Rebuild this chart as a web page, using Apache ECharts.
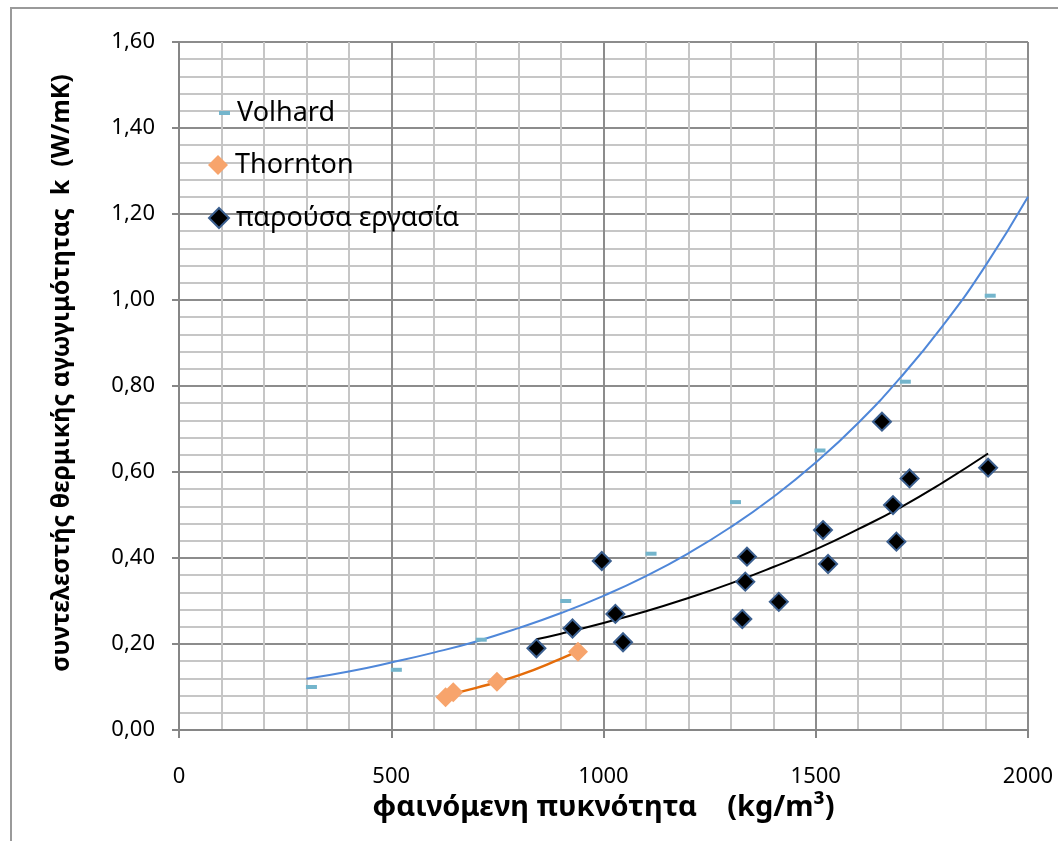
<!DOCTYPE html>
<html>
<head>
<meta charset="utf-8">
<script src="https://cdn.jsdelivr.net/npm/echarts@6/dist/echarts.min.js"></script>
<style>
html,body{margin:0;padding:0;background:#fff;}
#chart{width:1058px;height:841px;}
</style>
</head>
<body>
<div id="chart"></div>
<script>
// ---- data ----
const seriesNames = ['Volhard', 'Thornton', 'παρούσα εργασία'];

const volhardX = [312, 512, 712, 911, 1112, 1311, 1510, 1711, 1911];
const volhardK = [0.10, 0.14, 0.21, 0.30, 0.41, 0.53, 0.65, 0.81, 1.01];

const thorntonX = [628, 646, 749, 940];
const thorntonK = [0.076, 0.088, 0.112, 0.182];

const presentX = [842, 927, 996, 1028, 1046, 1327, 1334, 1338, 1413, 1517, 1529, 1656, 1682, 1690, 1721, 1906];
const presentK = [0.190, 0.236, 0.393, 0.270, 0.204, 0.258, 0.345, 0.403, 0.298, 0.465, 0.386, 0.717, 0.523, 0.438, 0.585, 0.610];

// trend lines
const volhardTrendX = [300, 400, 500, 600, 700, 800, 900, 1000, 1100, 1200, 1300, 1400, 1500, 1600, 1700, 1800, 1900, 2000];
const volhardTrendK = [0.119, 0.136, 0.157, 0.180, 0.206, 0.237, 0.272, 0.312, 0.358, 0.411, 0.472, 0.542, 0.622, 0.714, 0.820, 0.941, 1.080, 1.240];

const thorntonTrendX = [628, 700, 800, 900, 940];
const thorntonTrendK = [0.081, 0.098, 0.127, 0.166, 0.184];

const presentTrendX = [842, 900, 1000, 1100, 1200, 1300, 1400, 1500, 1600, 1700, 1800, 1906];
const presentTrendK = [0.211, 0.224, 0.249, 0.276, 0.307, 0.341, 0.379, 0.420, 0.467, 0.518, 0.576, 0.643];

const xTitle = 'φαινόμενη πυκνότητα    (kg/m³)';
const yTitle = 'συντελεστής θερμικής αγωγιμότητας  k  (W/mK)';

// ---- build ----
const zip = (xs, ys) => xs.map((x, i) => [x, ys[i]]);
const FONT = 'Noto Sans';

const chart = echarts.init(document.getElementById('chart'), null, {renderer: 'canvas'});

function legendFor(name, top, left, w, h) {
  return {
    data: [name],
    orient: 'vertical',
    left: left, top: top,
    padding: 0,
    itemWidth: w, itemHeight: h,
    selectedMode: false,
    textStyle: {fontFamily: FONT, fontSize: 27, color: '#000', lineHeight: 30, padding: [0, 0, 0, 2]}
  };
}

const option = {
  animation: false,
  backgroundColor: '#fff',
  graphic: [{
    type: 'rect', silent: true, z: -10,
    shape: {x: 11, y: 8, width: 1200, height: 1000},
    style: {fill: 'none', stroke: '#9a9a9a', lineWidth: 2}
  }],
  legend: [
    legendFor(seriesNames[0], 98, 219, 11, 4),
    legendFor(seriesNames[1], 150, 208, 20, 20),
    legendFor(seriesNames[2], 203, 208, 20, 20)
  ],
  grid: {left: 179, right: 30, top: 42, bottom: 111, containLabel: false},
  xAxis: {
    type: 'value', min: 0, max: 2000, interval: 500,
    name: xTitle, nameLocation: 'middle', nameGap: 61,
    nameTextStyle: {fontFamily: FONT, fontWeight: 'bold', fontSize: 29, color: '#000'},
    axisLine: {show: true, lineStyle: {color: '#868686', width: 2}},
    axisTick: {show: true, length: 8, lineStyle: {color: '#868686', width: 2}},
    axisLabel: {fontFamily: FONT, fontSize: 22, color: '#000', margin: 36,
      formatter: v => String(v)},
    splitLine: {show: true, lineStyle: {color: '#8c8c8c', width: 2}},
    minorTick: {show: false, splitNumber: 5},
    minorSplitLine: {show: true, lineStyle: {color: '#c6c6c6', width: 2}}
  },
  yAxis: {
    type: 'value', min: 0, max: 1.6, interval: 0.2,
    name: yTitle, nameLocation: 'middle', nameRotate: 90, nameGap: 105,
    nameTextStyle: {fontFamily: FONT, fontWeight: 'bold', fontSize: 25, color: '#000',
      padding: [0, 0, 0, 26]},
    axisLine: {show: true, lineStyle: {color: '#868686', width: 2}},
    axisTick: {show: true, length: 7, lineStyle: {color: '#868686', width: 2}},
    axisLabel: {fontFamily: FONT, fontSize: 22, color: '#000', margin: 24,
      formatter: v => v.toFixed(2).replace('.', ',')},
    splitLine: {show: true, lineStyle: {color: '#8c8c8c', width: 2}},
    minorTick: {show: false, splitNumber: 5},
    minorSplitLine: {show: true, lineStyle: {color: '#c6c6c6', width: 2}}
  },
  series: [
    {
      name: 'Volhard trend', type: 'line', data: zip(volhardTrendX, volhardTrendK),
      showSymbol: false, smooth: 0.5, z: 2, silent: true,
      lineStyle: {color: '#4f87d9', width: 2}
    },
    {
      name: 'Thornton trend', type: 'line', data: zip(thorntonTrendX, thorntonTrendK),
      showSymbol: false, smooth: 0.5, z: 2, silent: true,
      lineStyle: {color: '#e46c0a', width: 2.5}
    },
    {
      name: 'present trend', type: 'line', data: zip(presentTrendX, presentTrendK),
      showSymbol: false, smooth: 0.5, z: 2, silent: true,
      lineStyle: {color: '#000', width: 2}
    },
    {
      name: seriesNames[0], type: 'scatter', data: zip(volhardX, volhardK),
      symbol: 'rect', symbolSize: [11, 4], z: 3,
      itemStyle: {color: '#74b5cc', opacity: 1}
    },
    {
      name: seriesNames[1], type: 'scatter', data: zip(thorntonX, thorntonK),
      symbol: 'diamond', symbolSize: 20, z: 3,
      itemStyle: {color: '#f7a46c', opacity: 1}
    },
    {
      name: seriesNames[2], type: 'scatter', data: zip(presentX, presentK),
      symbol: 'diamond', symbolSize: 18, z: 4,
      itemStyle: {color: '#000', borderColor: '#3b5f8f', borderWidth: 2, opacity: 1}
    }
  ]
};
chart.setOption(option);
</script>
</body>
</html>
